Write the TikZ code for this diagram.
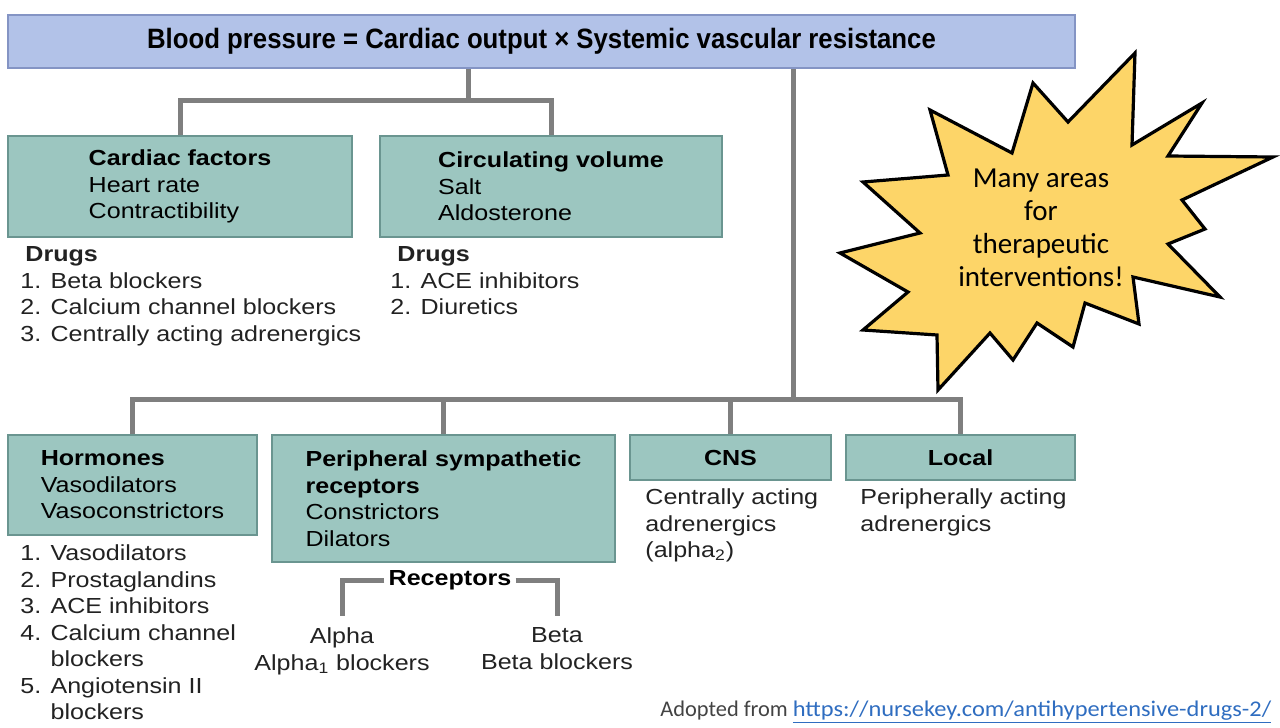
\documentclass[tikz,border=0pt]{standalone}
\usepackage{fontspec}
\setmainfont{Liberation Sans}[FakeStretch=1.15]
\newfontfamily\titlefont{Liberation Sans}[FakeStretch=0.92]
\newfontfamily\calibri{Carlito}
\newfontfamily\urlfont{Carlito}[FakeStretch=1.09]
\definecolor{bpblue}{HTML}{B2C2E8}
\definecolor{bpedge}{HTML}{8494C4}
\definecolor{boxteal}{HTML}{9CC6C0}
\definecolor{boxedge}{HTML}{6A9590}
\definecolor{linkgray}{HTML}{7F7F7F}
\definecolor{burstfill}{HTML}{FDD568}
\definecolor{urlblue}{HTML}{2F6DC0}
\definecolor{inkgray}{HTML}{222222}
\newcommand{\bodysize}{\fontsize{10.9pt}{13.25pt}\selectfont}

\begin{document}
\begin{tikzpicture}[x=0.5pt, y=-0.5pt,
    factor/.style={draw=boxedge, line width=1pt, fill=boxteal, align=left, inner sep=0pt, font=\bodysize, text=black},
    note/.style={anchor=north west, align=left, inner sep=0pt, font=\bodysize, text=inkgray},
    link/.style={draw=linkgray, line width=2.5pt}]
  \useasboundingbox (0,0) rectangle (1280,728);

  \node[draw=bpedge, fill=bpblue, line width=1pt, inner sep=0pt, minimum width=533.5pt, minimum height=26.5pt, font=\titlefont\bfseries\fontsize{14pt}{16pt}\selectfont] (bp) at (541.5,41.5) {Blood pressure = Cardiac output × Systemic vascular resistance};

  \node[factor, minimum width=172pt, minimum height=50.5pt] (cardiac) at (180,186.5) {\textbf{Cardiac factors}\\Heart rate\\Contractibility};
  \node[factor, minimum width=171pt, minimum height=50.5pt] (volume) at (551,186.5) {\textbf{Circulating volume}\\Salt\\Aldosterone};
  \node[factor, minimum width=124.5pt, minimum height=50pt] (hormones) at (132.5,485) {\textbf{Hormones}\\Vasodilators\\Vasoconstrictors};
  \node[factor, minimum width=171.5pt, minimum height=63.5pt] (periph) at (443.5,498.5) {\textbf{Peripheral sympathetic}\\\textbf{receptors}\\Constrictors\\Dilators};
  \node[factor, align=center, minimum width=100.5pt, minimum height=22.5pt] (cns) at (730.5,457.5) {\textbf{CNS}};
  \node[factor, align=center, minimum width=114.5pt, minimum height=22.5pt] (local) at (960.5,457.5) {\textbf{Local}};

  \node[note] (drugsA) at (20,246.5) {\hspace*{2.5pt}\textbf{Drugs}\\1. Beta blockers\\2. Calcium channel blockers\\3. Centrally acting adrenergics};
  \node[note] (drugsB) at (390,246.5) {\hspace*{3.5pt}\textbf{Drugs}\\1. ACE inhibitors\\2. Diuretics};
  \node[note] (drugsC) at (20,544.5) {1. Vasodilators\\2. Prostaglandins\\3. ACE inhibitors\\4. Calcium channel\\\phantom{4. }blockers\\5. Angiotensin II\\\phantom{5. }blockers};
  \node[note] (cnsdrug) at (645,488.5) {Centrally acting\\adrenergics\\(alpha\textsubscript{2})};
  \node[note] (localdrug) at (860,488.5) {Peripherally acting\\adrenergics};

  \node[inner sep=2pt, font=\bodysize\bfseries] (recep) at (450,580) {Receptors};
  \node[anchor=north, align=center, inner sep=0pt, font=\bodysize, text=inkgray] (alpha) at (342,627.5) {Alpha\\Alpha\textsubscript{1} blockers};
  \node[anchor=north, align=center, inner sep=0pt, font=\bodysize, text=inkgray] (beta) at (557,627.5) {Beta\\Beta blockers};

  \coordinate (split1) at (468,100);
  \coordinate (split2) at (793,400);
  \draw[link] (bp.south -| split1) -- (split1);
  \draw[link] (cardiac.north) -- ++(0,-35) -| (volume.north);
  \draw[link] (bp.south -| split2) -- (split2);
  \draw[link] (hormones.north) -- ++(0,-35) -| (local.north);
  \draw[link] (periph.north) -- (periph.north |- split2);
  \draw[link] (cns.north) -- (cns.north |- split2);
  \draw[link] (recep.west) -| ([yshift=6pt]alpha.north);
  \draw[link] (recep.east) -| ([yshift=6pt]beta.north);

  \draw[black, line width=1.6pt, fill=burstfill, line join=miter]
    (1135,53) -- (1132,145) -- (1202,103) -- (1168,156) -- (1273,157) -- (1182,200)
    -- (1205,229) -- (1168,244) -- (1220,297) -- (1133,277) -- (1139,324) -- (1085,303)
    -- (1073,347) -- (1037,323) -- (1013,360) -- (990,333) -- (938,390) -- (937,335)
    -- (863,330) -- (908,292) -- (840,253) -- (920,233) -- (863,182) -- (948,175)
    -- (930,110) -- (1012,153) -- (1033,83) -- (1068,122) -- cycle;
  \node[align=center, inner sep=0pt, font=\calibri\fontsize{14.5pt}{16.5pt}\selectfont] (burst) at (1041,228) {Many areas\\for\\therapeutic\\interventions!};

  \node[anchor=base west, inner sep=0pt, font=\calibri\fontsize{11.2pt}{14pt}\selectfont, text=inkgray!85] (source) at (660,716) {Adopted from\hspace{2.5pt}\textcolor{urlblue}{\urlfont\underline{https://nursekey.com/antihypertensive-drugs-2/}}};
\end{tikzpicture}
\end{document}
